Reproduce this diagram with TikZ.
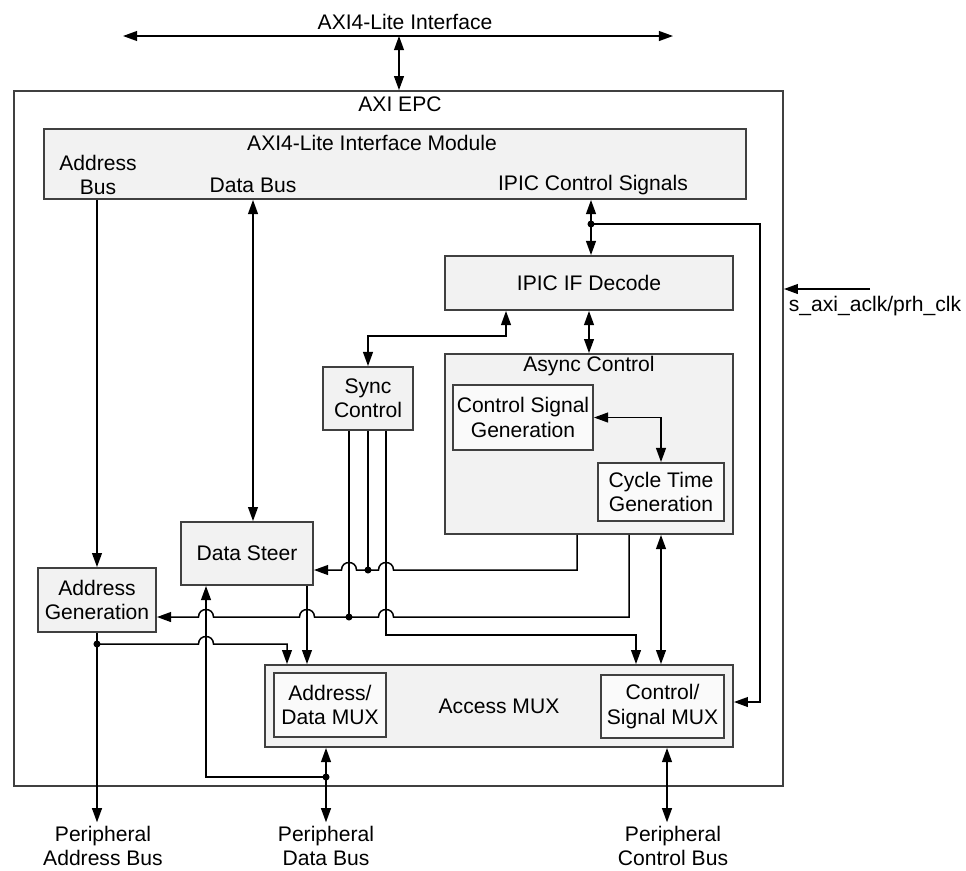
\documentclass[tikz,border=0pt]{standalone}
\usepackage{fontspec}
\setmainfont{Liberation Sans}
\usetikzlibrary{arrows.meta}

\definecolor{boxline}{HTML}{404040}
\definecolor{boxfill}{HTML}{F2F2F2}
\definecolor{subfill}{HTML}{FAFAFA}

\tikzset{
  blk/.style={rectangle, draw=boxline, line width=1.1pt, fill=boxfill, inner sep=0pt, align=center},
  subblk/.style={blk, fill=subfill},
  lbl/.style={inner sep=2pt, align=center},
  wire/.style={line width=0.85pt},
}
% line hops, going left / going right
\newcommand{\hopl}[2]{-- ({#1+7.5},#2) .. controls ({#1+7.5},{#2-10}) and ({#1-7.5},{#2-10}) .. ({#1-7.5},#2)}
\newcommand{\hopr}[2]{-- ({#1-7.5},#2) .. controls ({#1-7.5},{#2-10}) and ({#1+7.5},{#2-10}) .. ({#1+7.5},#2)}

\begin{document}
\begin{tikzpicture}[x=0.02cm, y=-0.02cm, >={Triangle[length=8pt,width=5.6pt]},
  font=\fontsize{12}{13.8}\selectfont]
\useasboundingbox (0,0) rectangle (966,870);

% blocks
\node[blk, fill=white, minimum width=15.38cm, minimum height=13.9cm] (epc) at (398.5,438.5) {};
\node[blk, minimum width=14.04cm, minimum height=1.4cm] (module) at (395,164) {};
\node[blk, minimum width=5.76cm, minimum height=1.08cm] (decode) at (589,283) {IPIC IF Decode};
\node[blk, minimum width=5.76cm, minimum height=3.6cm] (async) at (589,444) {};
\node[subblk, minimum width=2.8cm, minimum height=1.3cm] (csgen) at (523,417.5) {Control Signal\\Generation};
\node[subblk, minimum width=2.52cm, minimum height=1.16cm] (ctgen) at (661,492) {Cycle Time\\Generation};
\node[blk, minimum width=1.8cm, minimum height=1.26cm] (sync) at (368,398.5) {Sync\\Control};
\node[blk, minimum width=2.64cm, minimum height=1.26cm] (dsteer) at (247,553.5) {Data Steer};
\node[blk, minimum width=2.36cm, minimum height=1.28cm] (agen) at (97,600) {Address\\Generation};
\node[blk, minimum width=9.36cm, minimum height=1.64cm] (amux) at (499,706) {Access MUX};
\node[subblk, minimum width=2.24cm, minimum height=1.28cm] (admux) at (330,705) {Address/\\Data MUX};
\node[subblk, minimum width=2.46cm, minimum height=1.26cm] (csmux) at (662.5,706.5) {Control/\\Signal MUX};

% texts
\node[lbl] (axilbl) at (405,22) {AXI4-Lite Interface};
\node[lbl] (epclbl) at (400,104) {AXI EPC};
\node[lbl] (modlbl) at (372,143) {AXI4-Lite Interface Module};
\node[lbl] (abuslbl) at (98,175) {Address\\Bus};
\node[lbl] (dbuslbl) at (253,185) {Data Bus};
\node[lbl] (ipiclbl) at (593,185) {IPIC Control Signals};
\node[lbl] (asynclbl) at (589,366) {Async Control};
\node[lbl, anchor=west] (clklbl) at (785,306) {s\_axi\_aclk/prh\_clk};
\node[lbl] (paddr) at (103,846) {Peripheral\\Address Bus};
\node[lbl] (pdata) at (326,846) {Peripheral\\Data Bus};
\node[lbl] (pctl) at (673,846) {Peripheral\\Control Bus};

% junctions and bends
\coordinate (busL) at (123,36);
\coordinate (busR) at (673,36);
\coordinate (busT) at (399,36);
\coordinate (ipicdot) at (591,224);
\coordinate (ctlrail) at (760,702);
\coordinate (clkin) at (870,289);
\coordinate (syncup) at (506,336);
\coordinate (a1) at (577,570);
\coordinate (a2) at (629,617);
\coordinate (j1) at (349,617);
\coordinate (j2) at (368,570);
\coordinate (s3) at (386,635);
\coordinate (s3e) at (636,635);
\coordinate (adot) at (97,644);
\coordinate (adrop) at (287,644);
\coordinate (ddot) at (326,777);

% connectors
\draw[wire, <->] (busL) -- (busR);
\draw[wire, <->] (busT) -- (busT |- epc.north);
\draw[wire, ->] (clkin) -- (clkin -| epc.east);

\draw[wire, ->] (agen.north |- module.south) -- (agen.north);
\draw[wire, <->] (dbuslbl |- module.south) -- (dbuslbl |- dsteer.north);
\draw[wire, <->] (ipicdot |- module.south) -- (ipicdot |- decode.north);
\draw[wire, ->] (ipicdot) -| (ctlrail) -- (ctlrail -| amux.east);

\draw[wire, <->] (decode.south) -- (async.north);
\draw[wire, <->] (syncup |- decode.south) -- (syncup) -| (sync.north);
\draw[wire, <->] (csgen.east) -| (ctgen.north);
\draw[wire, <->] (ctgen.south |- async.south) -- (ctgen.south |- amux.north);

\draw[wire, ->] (a1 |- async.south) -- (a1) \hopl{386}{570} -- (j2) \hopl{349}{570} -- (dsteer.east |- a1);
\draw[wire, ->] (a2 |- async.south) -- (a2) \hopl{386}{617} -- (j1) \hopl{307}{617} \hopl{206}{617} -- (agen.east |- a2);

\draw[wire] (sync.south -| j1) -- (j1);
\draw[wire] (sync.south) -- (j2);
\draw[wire, ->] (sync.south -| s3) -- (s3) -- (s3e) -- (s3e |- amux.north);

\draw[wire, ->] (agen.south) -- (agen.south |- paddr.north);
\draw[wire, ->] (adot) \hopr{206}{644} -- (adrop) -- (adrop |- amux.north);
\draw[wire, ->] ([xshift=1.2cm]dsteer.south) -- ([xshift=1.2cm]dsteer.south |- amux.north);

\draw[wire, <->] (pdata.north |- amux.south) -- (pdata.north);
\draw[wire, ->] (ddot) -| ([xshift=-0.82cm]dsteer.south);
\draw[wire, <->] ([xshift=-0.12cm]pctl.north |- amux.south) -- ([xshift=-0.12cm]pctl.north);

% dots
\foreach \d in {ipicdot, j1, j2, adot, ddot}
  \fill (\d) circle[radius=2pt];

\end{tikzpicture}
\end{document}
